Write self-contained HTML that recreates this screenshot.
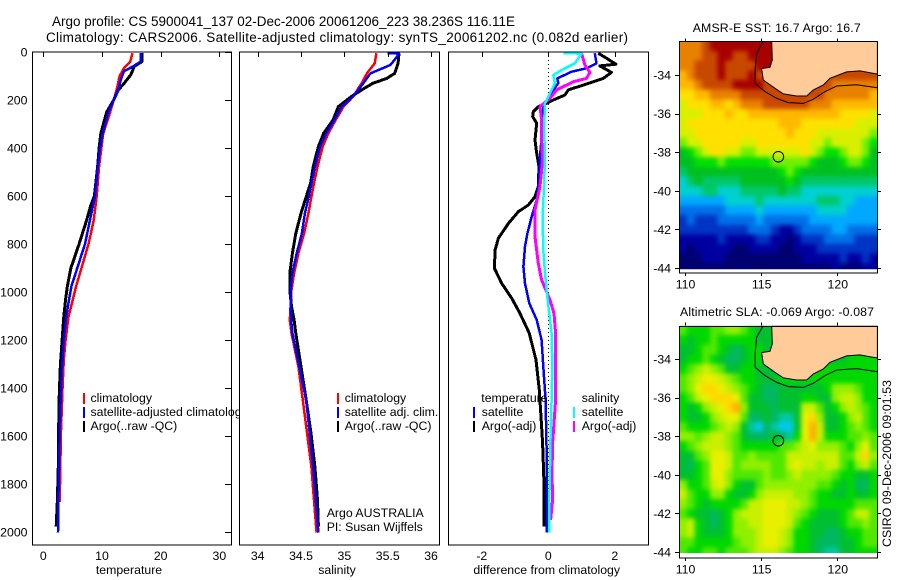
<!DOCTYPE html>
<html>
<head>
<meta charset="utf-8">
<title>Argo profile</title>
<style>
html,body{margin:0;padding:0;background:#fff;}
svg{display:block;}
text{font-family:"Liberation Sans",sans-serif;font-size:12.3px;fill:#000;}
</style>
</head>
<body>
<svg id="chart" xmlns="http://www.w3.org/2000/svg" width="900" height="580" viewBox="0 0 900 580">
<defs>
<filter id="cell-soften" filterUnits="userSpaceOnUse" x="640" y="0" width="260" height="580" color-interpolation-filters="sRGB"><feGaussianBlur stdDeviation="2.3"/></filter>
</defs>
<rect width="900" height="580" fill="#fff"/>
<text x="52" y="26" textLength="463" style="font-size:13.5px">Argo profile: CS 5900041_137 02-Dec-2006 20061206_223 38.236S 116.11E</text>
<text x="46" y="42" textLength="582" style="font-size:13.5px">Climatology: CARS2006. Satellite-adjusted climatology: synTS_20061202.nc (0.082d earlier)</text>
</svg>
<script>
// ---------- profile data ----------
const depthTicks = [0,200,400,600,800,1000,1200,1400,1600,1800,2000];
const tempTicks = [0,10,20,30];
const salTicks = [34,34.5,35,35.5,36];
const salTickLabels = ['34','34.5','35','35.5','36'];
const diffTicks = [-2,0,2];

const tempClimDepth = [5,40,67,100,157,200,250,340,400,475,600,700,800,900,975,1033,1103,1200,1283,1380,1588,1875];
const tempClimValue = [15.2,14.8,13.75,13,12.5,12,11.4,10.2,9.9,9.5,9.1,8.6,7.7,6.5,5.6,5,4.3,3.8,3.5,3.3,3,2.8];
const tempSatDepth = [5,40,60,80,115,157,200,250,340,400,475,600,700,800,900,975,1030,1103,1200,1311,1450,1588,1727,1866,2002];
const tempSatValue = [16.65,16.6,15.3,13.75,13.2,12.8,12,11.1,10.1,9.66,9.3,8.8,7.95,7.1,5.8,4.8,4.4,3.9,3.5,3.2,2.95,2.8,2.7,2.55,2.5];
const tempArgoDepth = [5,40,60,95,136,157,200,250,340,400,475,600,640,700,800,900,975,1030,1103,1200,1311,1450,1588,1727,1866,1977];
const tempArgoValue = [16.8,16.8,15.5,14.9,13.6,12.8,12,10.8,9.8,9.5,9.26,8.7,8.07,7.4,6.1,4.7,4.1,3.8,3.5,3.2,2.9,2.7,2.6,2.55,2.4,2.2];

const salClimDepth = [5,47,89,130,186,228,283,339,394,478,547,603,672,756,839,922,992,1117,1172,1311,1450,1589,1728,1867,2003];
const salClimValue = [35.37,35.35,35.26,35.2,35.1,34.99,34.9,34.815,34.75,34.69,34.65,34.62,34.585,34.535,34.47,34.42,34.39,34.37,34.39,34.47,34.52,34.57,34.62,34.65,34.68];
const salSatDepth = [4,7,33,54,89,130,186,228,283,339,394,478,547,603,672,756,839,922,992,1117,1172,1311,1450,1589,1728,1867,2003];
const salSatValue = [35.5,35.63,35.58,35.53,35.3,35.22,35.1,34.97,34.885,34.79,34.72,34.66,34.62,34.59,34.545,34.51,34.45,34.4,34.38,34.385,34.4,34.48,34.56,34.6,34.64,34.67,34.7];
const salArgoDepth = [5,47,89,110,130,158,186,228,283,339,394,478,547,603,672,756,839,922,992,1060,1117,1172,1311,1450,1589,1728,1867,1978];
const salArgoValue = [35.63,35.62,35.58,35.49,35.33,35.2,35.08,34.93,34.87,34.76,34.7,34.64,34.61,34.56,34.5,34.44,34.4,34.37,34.37,34.39,34.42,34.44,34.5,34.56,34.615,34.66,34.69,34.7];

const diffTempArgoDepth = [5,26,51,58,85,110,138,158,179,200,214,228,249,269,297,367,422,478,561,603,638,665,714,776,825,901,964,1026,1089,1172,1283,1408,1519,1630,1797,1978];
const diffTempArgoValue = [1.5,1.75,2.03,1.55,1.9,1.65,1.05,0.6,0.5,0.15,-0.05,-0.3,-0.45,-0.47,-0.35,-0.4,-0.35,-0.28,-0.3,-0.4,-0.6,-0.9,-1.2,-1.5,-1.6,-1.62,-1.4,-1.1,-0.85,-0.57,-0.37,-0.27,-0.22,-0.17,-0.13,-0.13];
const diffTempSatDepth = [5,47,68,82,110,130,158,193,221,311,436,547,617,686,756,811,894,964,1047,1116,1200,1311,1450,1658,1866,2003];
const diffTempSatValue = [1.4,1.45,1.15,0.7,0.27,0.3,0.15,0,-0.15,-0.17,-0.25,-0.28,-0.35,-0.5,-0.63,-0.7,-0.75,-0.7,-0.57,-0.35,-0.2,-0.15,-0.08,-0.05,-0.04,-0.05];
const diffSalSatDepth = [4,7,47,68,96,130,172,214,311,436,561,686,825,922,1019,1117,1172,1311,1450,1589,1727,1866,2003];
const diffSalSatValue = [0.45,1,0.8,0.5,0.15,0.2,0.05,-0.1,-0.13,-0.1,-0.13,-0.17,-0.15,-0.1,-0.03,0.05,0.1,0.12,0.1,0.07,0.05,0.03,0.03];
const diffSalArgoDepth = [5,54,85,110,124,158,193,228,283,367,450,561,658,769,880,950,1033,1089,1172,1311,1450,1547,1630,1755,1866,1950];
const diffSalArgoValue = [1,1.1,1.25,1.15,0.75,0.25,0.05,-0.25,-0.2,-0.2,-0.17,-0.25,-0.4,-0.4,-0.3,-0.2,0.05,0.17,0.22,0.22,0.22,0.17,0.13,0.11,0.13,0.07];

// ---------- map data ----------
const mapLonTicks = [110,115,120];
const mapLatTicks = [-34,-36,-38,-40,-42,-44];
const floatLon = 116.13;
const floatLat = -38.236;
const cellLonStart = 109.63;
const cellLatStart = -32.26;
const cellDegrees = 0.5;

const sstColors = ['#000070','#0000a0','#0034c4','#0070e8','#00a8ff','#00d0d0','#00c868','#00c020','#00e000','#70f000','#d8f000','#ffe000','#ffb800','#e88000','#c84800','#a80000'];
const sstLevels = [
[13,13,13,14,15,15,15,15,15,15,15,15,15,15,15,15,15,15,15,15,14,14,14,14,14,14],
[13,13,13,14,14,15,15,14,14,15,15,15,15,15,15,15,15,15,15,15,14,14,14,14,14,14],
[13,13,14,14,14,15,14,14,14,14,15,15,15,15,15,14,14,14,14,14,14,14,14,14,14,14],
[12,13,14,14,14,15,14,14,14,15,14,14,14,14,14,14,14,14,14,14,14,14,14,14,14,14],
[12,12,13,14,14,14,14,15,15,15,15,14,14,14,14,14,14,14,14,14,13,13,13,13,13,13],
[11,11,12,12,13,13,13,13,14,14,14,14,14,14,14,14,14,14,14,13,13,13,13,13,13,12],
[10,11,11,11,12,12,11,12,13,13,13,14,14,14,14,14,14,13,13,13,12,12,12,12,12,12],
[10,10,10,11,11,11,12,11,11,12,12,12,12,12,12,12,12,12,12,12,12,11,11,11,11,10],
[10,11,11,11,11,11,11,11,11,11,11,11,11,12,12,12,11,11,11,11,11,11,11,10,10,10],
[10,10,11,11,11,11,11,11,11,11,11,11,11,11,12,11,11,11,10,10,10,10,10,10,10,9],
[9,10,10,11,11,11,11,11,10,10,11,11,11,11,11,11,11,10,10,9,10,10,10,10,9,8],
[7,8,9,10,11,11,10,10,9,9,10,10,10,10,10,10,11,10,9,8,8,9,10,10,9,7],
[7,7,8,8,8,9,8,8,8,8,8,8,9,9,9,9,9,8,7,7,7,8,9,9,8,7],
[6,7,7,7,7,7,7,7,7,7,7,7,7,8,9,8,7,7,7,7,7,7,7,7,7,7],
[5,6,7,6,6,6,6,6,7,7,7,7,7,7,8,7,6,6,6,6,6,6,6,6,6,6],
[5,5,5,6,6,5,5,5,6,6,6,6,6,7,6,6,5,5,5,5,5,5,5,5,5,5],
[4,4,4,4,4,4,5,5,5,5,6,5,5,5,5,5,5,5,6,6,6,5,5,4,4,4],
[3,3,3,3,3,3,4,4,4,4,5,4,4,4,4,4,4,4,5,5,5,5,4,4,4,4],
[2,3,2,2,2,3,3,3,3,3,4,3,3,3,3,3,3,4,4,4,4,4,4,4,4,4],
[2,2,2,2,2,2,2,2,2,3,3,3,2,1,1,2,3,3,3,3,4,4,3,3,3,3],
[1,1,1,1,1,2,1,1,1,1,2,2,1,1,0,1,2,2,2,3,3,3,3,2,2,2],
[1,0,1,1,1,1,1,0,0,1,1,1,1,0,0,1,1,1,2,2,2,2,2,2,2,2],
[0,0,0,1,1,1,0,0,0,0,0,0,0,0,0,0,1,1,1,1,1,2,1,1,2,1],
[0,0,0,0,0,0,0,0,0,0,0,0,0,0,0,0,0,0,0,0,1,0,0,0,1,1]
];

const slaColors = ['#00c8f0','#00c8a0','#00b860','#00c030','#00d800','#50e800','#90f000','#c8f000','#e8f000','#ffd800','#ffb000'];
const slaLevels = [
[5,4,4,4,5,5,6,6,5,4,3,3,3,3,3,3,3,3,3,3,3,3,3,3,3,3],
[4,3,4,4,5,4,4,4,4,4,3,3,3,3,3,3,3,3,3,3,3,3,3,3,3,3],
[3,3,4,5,5,4,3,2,3,4,4,3,3,3,3,3,3,3,3,3,3,3,3,3,3,3],
[3,4,4,5,4,3,2,2,3,4,4,3,3,3,3,3,3,3,3,3,3,3,4,4,4,4],
[4,5,6,7,6,5,3,3,4,4,3,3,3,4,4,4,4,4,4,4,4,4,4,4,4,4],
[5,6,7,8,8,7,6,5,4,4,3,3,3,4,4,4,4,4,4,4,4,4,4,4,4,4],
[5,6,8,9,9,8,7,6,5,4,3,2,2,3,3,3,3,3,3,4,6,6,6,5,4,4],
[4,5,7,8,9,9,9,8,5,3,3,2,2,3,3,3,4,4,3,3,6,7,7,6,4,4],
[4,3,4,6,7,8,9,10,6,3,3,3,2,3,3,3,7,7,5,3,4,6,7,6,5,4],
[4,3,3,4,6,7,8,8,5,2,2,3,2,1,1,3,8,9,6,3,3,4,6,7,5,4],
[5,4,4,4,5,6,7,6,3,1,0,2,1,0,0,3,8,10,7,3,3,4,5,6,5,4],
[6,6,5,6,7,7,6,5,3,2,2,2,3,2,1,4,8,10,7,4,4,4,5,5,6,5],
[4,5,6,7,7,7,6,5,4,4,4,4,4,5,5,6,7,8,6,6,6,5,4,6,8,5],
[3,3,5,6,8,8,7,5,5,6,5,5,5,5,7,7,7,7,7,7,7,5,5,7,9,6],
[3,2,4,5,8,8,7,5,6,6,6,6,5,5,7,8,7,7,6,7,7,5,4,6,7,5],
[3,3,4,5,8,8,6,5,5,5,5,6,5,5,6,7,6,6,6,6,5,4,4,3,3,4],
[6,4,4,5,7,8,6,4,3,3,5,6,6,6,6,6,6,6,5,5,4,3,4,2,2,4],
[7,5,4,4,6,6,4,3,3,4,6,7,7,7,7,6,6,5,4,4,3,3,4,3,3,4],
[6,5,4,3,4,4,4,4,5,7,7,8,8,8,7,7,6,5,4,4,4,4,4,5,5,5],
[5,4,3,3,2,3,4,6,7,7,7,8,8,8,7,6,5,4,3,3,3,4,5,7,7,5],
[6,7,4,3,2,3,4,6,6,7,7,8,8,8,7,5,4,3,3,3,3,4,5,5,6,5],
[6,7,4,3,3,3,4,6,6,6,7,8,8,7,6,4,4,3,3,2,2,3,4,4,5,5],
[5,5,4,4,4,4,4,5,6,6,7,8,8,7,6,4,4,3,2,2,2,3,3,4,5,5],
[5,4,4,5,5,4,5,5,5,6,7,7,7,6,5,4,4,3,2,1,1,3,3,4,4,4]
];

const coastLon = [115.69,115.73,115.58,115.03,115.14,115.91,116.46,117.33,117.99,118.42,119.08,119.52,120.61,121.49,122.14,122.63,122.63];
const coastLat = [-32.26,-33.22,-33.6,-33.67,-34.26,-34.69,-34.98,-35.09,-35.09,-34.78,-34.52,-34.17,-33.84,-33.79,-33.88,-33.95,-32.26];
const shelfLon = [115.14,114.7,114.6,114.6,115.25,116.02,116.78,117.77,118.42,119.19,119.96,121.27,122.63];
const shelfLat = [-32.26,-32.88,-33.74,-34.43,-34.86,-35.21,-35.43,-35.47,-35.26,-34.86,-34.57,-34.5,-34.66];

// ---------- helpers ----------
const svg = document.getElementById('chart');
const NS = 'http://www.w3.org/2000/svg';
function make(tag, attrs, parent) {
  const el = document.createElementNS(NS, tag);
  for (const k in attrs) el.setAttribute(k, attrs[k]);
  (parent || svg).appendChild(el);
  return el;
}
function label(str, x, y, anchor, name) {
  const t = make('text', {x: x, y: y, 'text-anchor': anchor || 'start'});
  t.textContent = str;
  
  
  return t;
}
const PLOT_TOP = 52, PLOT_BOTTOM = 545;
const yDepth = d => 52 + d * 0.24;
const xTemp = v => 43.3 + v * 5.87;
const xSal = v => 257.7 + (v - 34) * 86.67;
const xDiff = v => 548.3 + v * 33.25;
const xLon = v => 685 + (v - 110) * 15.23;
const yLat1 = v => 75 + (-34 - v) * 19.3;
const yLat2 = v => 359 + (-34 - v) * 19.3;

function tickLine(x1, y1, x2, y2, name) {
  const l = make('line', {x1: x1, y1: y1, x2: x2, y2: y2, stroke: '#000', 'stroke-width': 1, 'shape-rendering': 'crispEdges'});
  
  
}
function panelBox(x0, x1, name) {
  const r = make('rect', {x: x0, y: PLOT_TOP, width: x1 - x0, height: PLOT_BOTTOM - PLOT_TOP, fill: '#fff', stroke: 'none'});
  
  
}
function panelFrame(x0, x1, name) {
  const r = make('rect', {x: x0, y: PLOT_TOP, width: x1 - x0, height: PLOT_BOTTOM - PLOT_TOP, fill: 'none', stroke: '#000', 'stroke-width': 1, 'shape-rendering': 'crispEdges'});
  
  
}
function profile(xs, ds, xFn, color, width, name) {
  const pts = ds.map((d, i) => xFn(xs[i]).toFixed(1) + ',' + yDepth(d).toFixed(1)).join(' ');
  const p = make('polyline', {points: pts, fill: 'none', stroke: color, 'stroke-width': width, 'stroke-linejoin': 'round', 'shape-rendering': 'crispEdges'});
  
  
}
function legendMark(x, y, color, name) {
  const r = make('rect', {x: x, y: y, width: 2, height: 11, fill: color, 'shape-rendering': 'crispEdges'});
  
  
}

// ---------- panel 1: temperature ----------
panelBox(32.5, 231.5, 'temperature-panel');
profile(tempClimValue, tempClimDepth, xTemp, '#ff0000', 2.5, 'temperature-climatology-line');
profile(tempArgoValue, tempArgoDepth, xTemp, '#000000', 3, 'temperature-argo-line');
profile(tempSatValue, tempSatDepth, xTemp, '#0000ff', 2.5, 'temperature-satellite-line');
panelFrame(32.5, 231.5, 'temperature-panel');
depthTicks.forEach(d => {
  tickLine(225, Math.round(yDepth(d)) + 0.5, 231, Math.round(yDepth(d)) + 0.5, 'temperature-depth-tick');
  label(String(d), 27.5, yDepth(d) + 4.5, 'end', 'depth-tick-label');
});
tempTicks.forEach(v => {
  tickLine(Math.round(xTemp(v)) + 0.5, 52, Math.round(xTemp(v)) + 0.5, 57, 'temperature-top-tick');
  label(String(v), xTemp(v), 560, 'middle', 'temperature-tick-label');
});
label('temperature', 129, 574, 'middle', 'temperature-axis-title');
legendMark(83, 393, '#ff0000', 'legend-mark-climatology');
legendMark(83, 407, '#0000ff', 'legend-mark-satellite');
legendMark(83, 421, '#000000', 'legend-mark-argo');
label('climatology', 90.5, 402, 'start', 'legend-climatology');
label('satellite-adjusted climatology', 90.5, 416, 'start', 'legend-satellite-adjusted');
label('Argo(..raw -QC)', 90.5, 430, 'start', 'legend-argo');

// ---------- panel 2: salinity ----------
panelBox(239.5, 439.5, 'salinity-panel');
profile(salClimValue, salClimDepth, xSal, '#ff0000', 2.5, 'salinity-climatology-line');
profile(salArgoValue, salArgoDepth, xSal, '#000000', 3, 'salinity-argo-line');
profile(salSatValue, salSatDepth, xSal, '#0000ff', 2.5, 'salinity-satellite-line');
panelFrame(239.5, 439.5, 'salinity-panel');
salTicks.forEach((v, i) => {
  tickLine(Math.round(xSal(v)) + 0.5, 52, Math.round(xSal(v)) + 0.5, 57, 'salinity-top-tick');
  label(salTickLabels[i], xSal(v), 560, 'middle', 'salinity-tick-label');
});
label('salinity', 337, 574, 'middle', 'salinity-axis-title');
legendMark(337, 393, '#ff0000', 'legend-mark-climatology');
legendMark(337, 407, '#0000ff', 'legend-mark-satellite');
legendMark(337, 421, '#000000', 'legend-mark-argo');
label('climatology', 344.7, 402, 'start', 'legend-climatology');
label('satellite adj. clim.', 344.7, 416, 'start', 'legend-satellite-adj');
label('Argo(..raw -QC)', 344.7, 430, 'start', 'legend-argo');
label('Argo AUSTRALIA', 326.7, 517, 'start', 'program-label');
label('PI: Susan Wijffels', 326.7, 531, 'start', 'principal-investigator-label');

// ---------- panel 3: difference ----------
panelBox(448.5, 648.5, 'difference-panel');
const zeroLine = make('line', {x1: Math.round(xDiff(0)) + 0.5, y1: yDepth(0), x2: Math.round(xDiff(0)) + 0.5, y2: yDepth(2000), stroke: '#000', 'stroke-width': 1, 'stroke-dasharray': '1 3', 'shape-rendering': 'crispEdges'});


profile(diffTempArgoValue, diffTempArgoDepth, xDiff, '#000000', 3, 'difference-temperature-argo-line');
profile(diffTempSatValue, diffTempSatDepth, xDiff, '#0000ff', 2.5, 'difference-temperature-satellite-line');
profile(diffSalArgoValue, diffSalArgoDepth, xDiff, '#ff00ff', 3, 'difference-salinity-argo-line');
profile(diffSalSatValue, diffSalSatDepth, xDiff, '#00ffff', 2.5, 'difference-salinity-satellite-line');
panelFrame(448.5, 648.5, 'difference-panel');
diffTicks.forEach(v => {
  tickLine(Math.round(xDiff(v)) + 0.5, 52, Math.round(xDiff(v)) + 0.5, 57, 'difference-top-tick');
  label(String(v), xDiff(v), 560, 'middle', 'difference-tick-label');
});
label('difference from climatology', 546.7, 574, 'middle', 'difference-axis-title');
label('temperature', 481.3, 402, 'start', 'legend-temperature-heading');
label('satellite', 481.7, 416, 'start', 'legend-temperature-satellite');
label('Argo(-adj)', 481.7, 430, 'start', 'legend-temperature-argo');
label('salinity', 581.7, 402, 'start', 'legend-salinity-heading');
label('satellite', 581.7, 416, 'start', 'legend-salinity-satellite');
label('Argo(-adj)', 581.7, 430, 'start', 'legend-salinity-argo');
legendMark(473, 407, '#0000ff', 'legend-mark-temperature-satellite');
legendMark(473, 421, '#000000', 'legend-mark-temperature-argo');
legendMark(573, 407, '#00ffff', 'legend-mark-salinity-satellite');
legendMark(573, 421, '#ff00ff', 'legend-mark-salinity-argo');

// ---------- maps ----------
function drawMap(id, levels, colors, yLat, top, dataBottom, frameBottom, title, titleX, titleY, titleLen, labelY) {
  const clip = make('clipPath', {id: id + '-clip'});
  make('rect', {x: 679.5, y: top, width: 198, height: dataBottom - top}, clip);
  const outer = make('g', {'clip-path': 'url(#' + id + '-clip)'});
  
  
  const g = make('g', {filter: 'url(#cell-soften)'}, outer);
  
  
  const lastRow = levels.length - 1;
  levels.forEach((row, r) => {
    const lastCol = row.length - 1;
    row.forEach((lv, c) => {
      const lon0 = cellLonStart + c * cellDegrees;
      const lat0 = cellLatStart - r * cellDegrees;
      const x = xLon(lon0), y = yLat(lat0);
      // outermost cells bleed past the clip so softening does not fade the map edge
      const padL = c === 0 ? 12 : 0, padR = c === lastCol ? 12 : 0;
      const padT = r === 0 ? 12 : 0, padB = r === lastRow ? 12 : 0;
      const cell = make('rect', {x: x - padL, y: y - padT, width: xLon(lon0 + cellDegrees) - x + 0.6 + padL + padR, height: yLat(lat0 - cellDegrees) - y + 0.6 + padT + padB, fill: colors[lv], 'shape-rendering': 'crispEdges'}, g);
      
      
    });
  });
  const land = make('polygon', {points: coastLon.map((v, i) => xLon(v).toFixed(1) + ',' + yLat(coastLat[i]).toFixed(1)).join(' '), fill: '#ffcc99', stroke: '#000', 'stroke-width': 1}, outer);
  
  
  const shelf = make('polyline', {points: shelfLon.map((v, i) => xLon(v).toFixed(1) + ',' + yLat(shelfLat[i]).toFixed(1)).join(' '), fill: 'none', stroke: '#000', 'stroke-width': 1}, outer);
  
  
  const marker = make('circle', {cx: xLon(floatLon), cy: yLat(floatLat), r: 5.3, fill: 'none', stroke: '#000', 'stroke-width': 1});
  
  
  const frame = make('rect', {x: 679.5, y: Math.round(top) + 0.5, width: 198, height: frameBottom - Math.round(top), fill: 'none', stroke: '#000', 'stroke-width': 1, 'shape-rendering': 'crispEdges'});
  
  
  mapLonTicks.forEach(v => {
    const x = Math.round(xLon(v)) + 0.5;
    tickLine(x, top - 3, x, top, 'map-top-tick');
    tickLine(x, frameBottom + 0.5, x, frameBottom + 3.5, 'map-bottom-tick');
    label(String(v), xLon(v) + 0.5, labelY, 'middle', 'map-longitude-label');
  });
  mapLatTicks.forEach(v => {
    const y = Math.round(yLat(v)) + 0.5;
    tickLine(675, y, 679.5, y, 'map-left-tick');
    tickLine(877.5, y, 881, y, 'map-right-tick');
    label(String(v), 671, yLat(v) + 4.5, 'end', 'map-latitude-label');
  });
  const t = label(title, titleX, titleY, 'start', id + '-title');
  t.setAttribute('textLength', titleLen);
}
drawMap('sst-map', sstLevels, sstColors, yLat1, 41.3, 269.3, 272.5, 'AMSR-E SST: 16.7 Argo: 16.7', 692.7, 32, 168, 288.5);
drawMap('sla-map', slaLevels, slaColors, yLat2, 325.7, 553, 557.5, 'Altimetric SLA: -0.069 Argo: -0.087', 680, 316, 194, 573.5);

const stamp = make('text', {transform: 'translate(891,547) rotate(-90)', textLength: 167});
stamp.textContent = 'CSIRO 09-Dec-2006 09:01:53';


</script>
</body>
</html>
